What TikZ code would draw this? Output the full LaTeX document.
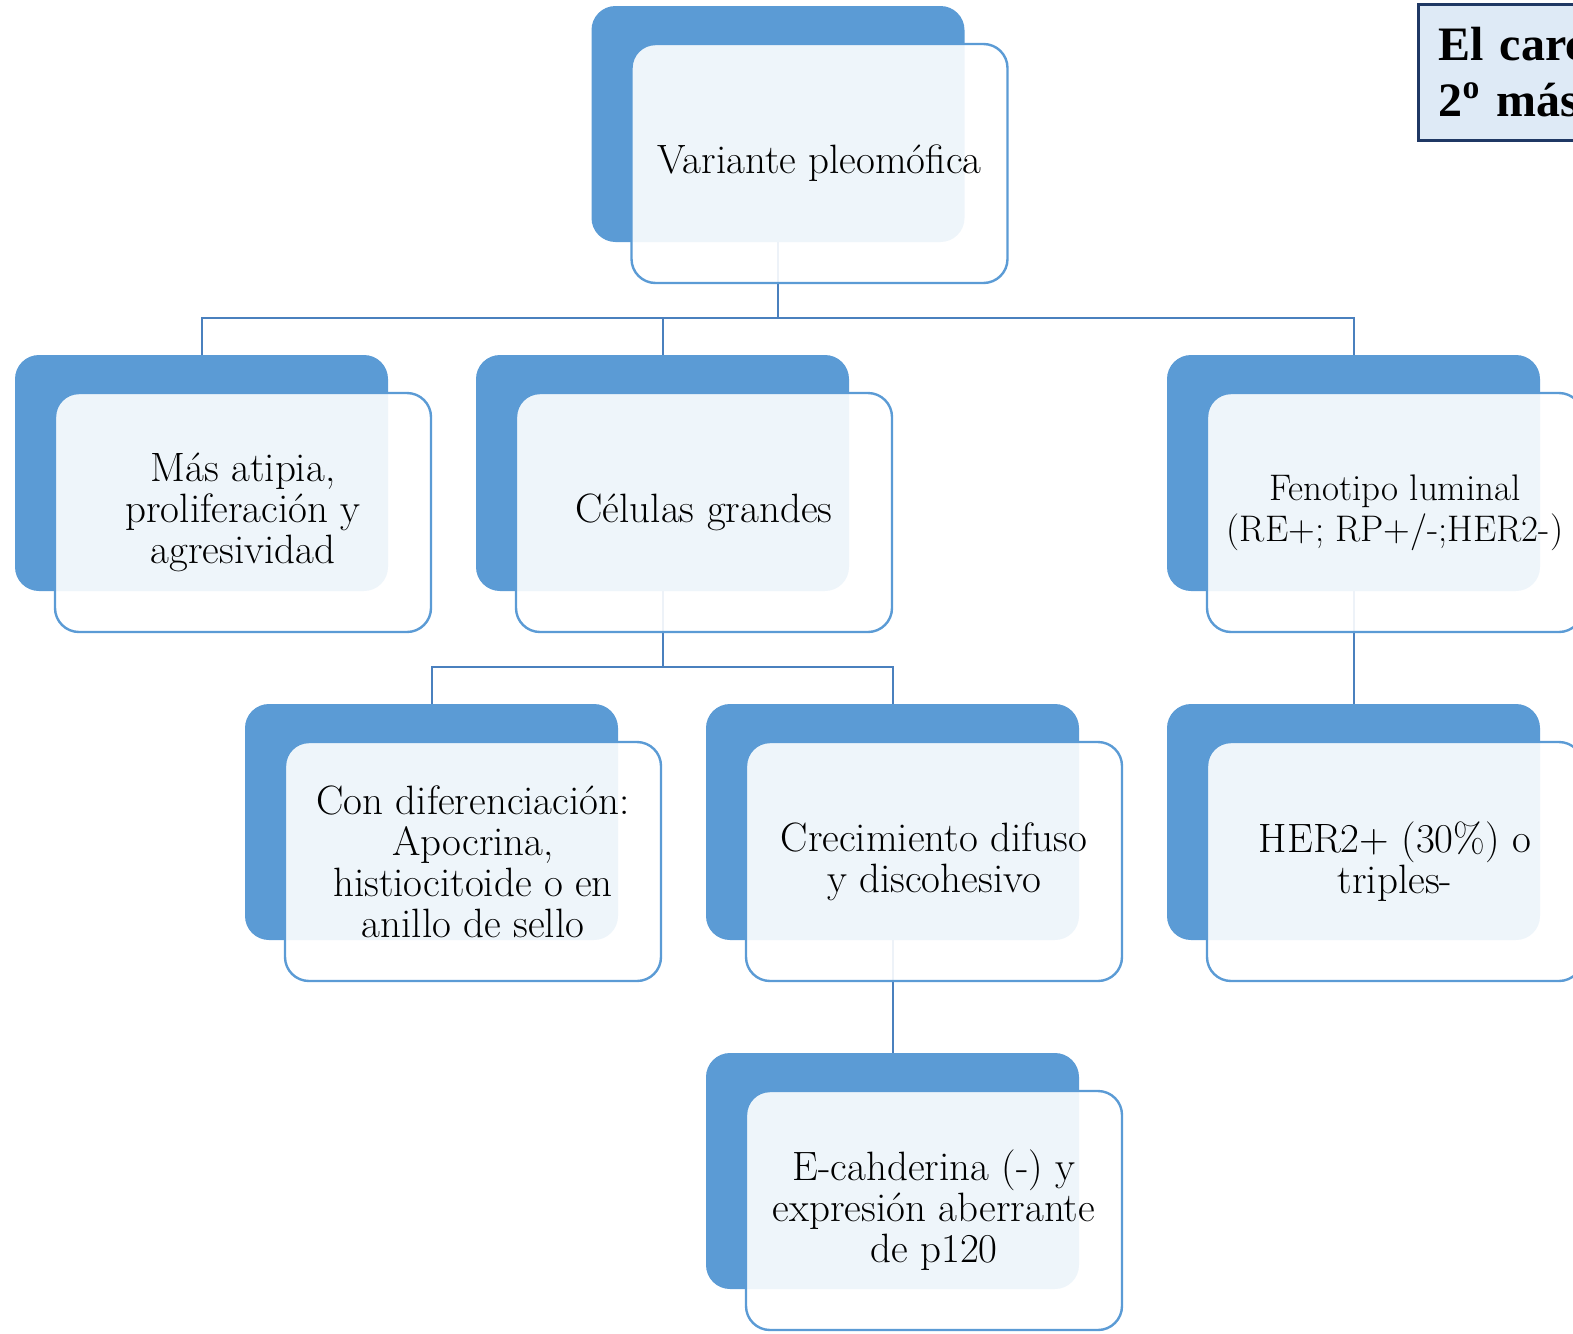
\documentclass[tikz,border=0pt]{standalone}
\usepackage{fontspec}
\newfontfamily\titlefont{Liberation Serif}
\usetikzlibrary{positioning}
\definecolor{accblue}{HTML}{5B9BD5}
\definecolor{linkblue}{HTML}{4A80BE}
\definecolor{titlefill}{HTML}{DEEAF6}
\definecolor{titledraw}{HTML}{1F3864}

\begin{document}
\begin{tikzpicture}[
  x=0.5pt, y=-0.5pt,
  back/.style={fill=accblue, rounded corners=12pt, minimum width=186.5pt, minimum height=118pt, inner sep=0pt},
  front/.style={draw=accblue, line width=1.2pt, fill=white, fill opacity=0.9, text opacity=1, rounded corners=12pt, minimum width=188pt, minimum height=119.5pt, align=center, font=\fontsize{20.5}{20.5}\selectfont, xshift=20.75pt, yshift=-19.75pt},
  link/.style={draw=linkblue, line width=1pt},
  titlebox/.style={draw=titledraw, line width=1.5pt, fill=titlefill, text width=130pt, inner xsep=10pt, minimum height=68pt, align=left, font=\titlefont\fontsize{24}{28}\selectfont\bfseries}
]
\useasboundingbox (0,0) rectangle (1573,1333);
\clip (0,0) rectangle (1573,1333);

% back boxes
\node[back] (pleoB) at (778,124) {};
\node[back] (atipB) at (201.5,473) {};
\node[back] (celB) at (662.5,473) {};
\node[back] (fenoB) at (1353.5,473) {};
\node[back] (difB) at (431.5,822) {};
\node[back] (crecB) at (892.5,822) {};
\node[back] (herB) at (1353.5,822) {};
\node[back] (ecadB) at (892.5,1171) {};

% connectors
\coordinate (bus1) at (0,318);
\coordinate (bus2) at (0,667);
\draw[link] (pleoB.south) -- (pleoB.south |- bus1) -| (atipB.north);
\draw[link] (pleoB.south |- bus1) -| (celB.north);
\draw[link] (pleoB.south |- bus1) -| (fenoB.north);
\draw[link] (celB.south) -- (celB.south |- bus2) -| (difB.north);
\draw[link] (celB.south |- bus2) -| (crecB.north);
\draw[link] (fenoB.south) -- (herB.north);
\draw[link] (crecB.south) -- (ecadB.north);

% front boxes
\node[front] (pleo) at (pleoB) {Variante pleomófica};
\node[front] (atip) at (atipB) {Más atipia,\\proliferación y\\agresividad};
\node[front] (cel) at (celB) {Células grandes};
\node[front, font=\fontsize{18.5}{20.5}\selectfont] (feno) at (fenoB) {Fenotipo luminal\\(RE+; RP+/-;HER2-)};
\node[front] (dif) at (difB) {Con diferenciación:\\Apocrina,\\histiocitoide o en\\anillo de sello};
\node[front] (crec) at (crecB) {Crecimiento difuso\\y discohesivo};
\node[front] (her) at (herB) {HER2+ (30\%) o\\triples-};
\node[front] (ecad) at (ecadB) {E-cahderina (-) y\\expresión aberrante\\de p120};

\node[titlebox, anchor=north west] (title) at (1417,3) {El carc\\2\textsuperscript{o} más};
\end{tikzpicture}
\end{document}
